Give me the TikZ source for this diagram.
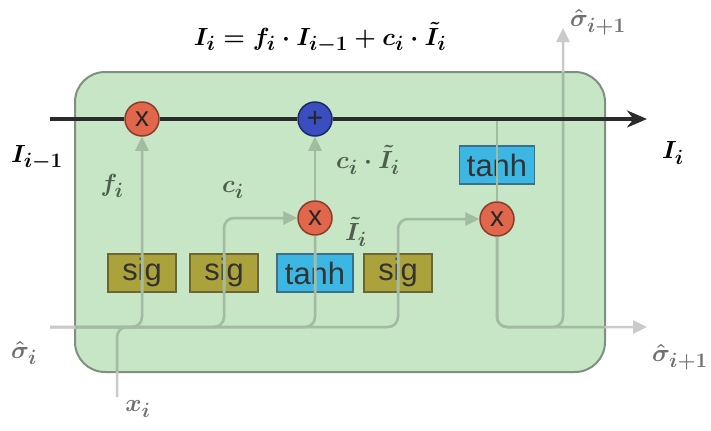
\documentclass[tikz,border=0pt]{standalone}
\usepackage{fontspec}
\setsansfont{Liberation Sans}
\usepackage{tikz}
\usetikzlibrary{arrows.meta}
\definecolor{cell}{HTML}{C6E6C6}
\definecolor{celledge}{HTML}{7F907F}
\definecolor{wirein}{HTML}{A2BCA2}
\definecolor{wireout}{HTML}{CACACA}
\definecolor{sigfill}{HTML}{ABA23C}
\definecolor{sigedge}{HTML}{6B6634}
\definecolor{tanhfill}{HTML}{3CB7E4}
\definecolor{tanhedge}{HTML}{3E6E88}
\definecolor{mulfill}{HTML}{E0674B}
\definecolor{muledge}{HTML}{8A3B2B}
\definecolor{addfill}{HTML}{3A4EC0}
\definecolor{addedge}{HTML}{1C2A66}
\definecolor{state}{HTML}{2B2B2B}
\definecolor{lbl}{HTML}{4E5E4E}
\definecolor{outlbl}{HTML}{707070}

% all grey wires of the cell, drawn in the colour #1
\newcommand\cellwires[1]{%
\draw[wirearrow,draw=#1] (hin) -| (fx.south);
\draw[wirearrow,draw=#1] (hin) -| (sigc.center) |- (mx.west);
\draw[wireline,draw=#1] (hin) -| (mx.south);
\draw[wirearrow,draw=#1] (hin) -| (sigo.center) |- (rx.west);
\draw[wireline,draw=#1] (xin) |- (fx.south |- hin);
\draw[wirearrow,draw=#1] (mx) -- (ax);
\draw[wireline,draw=#1] (rx |- ax) -- (rx);
\draw[wirearrow,draw=#1] (rx) |- (hout);
\draw[wirearrow,draw=#1] (rx) |- (hup |- hout) -- (hup);
}

\begin{document}
\begin{tikzpicture}[x=1bp,y=-1bp,>=Stealth,
  every node/.style={font=\fontsize{30}{34}\selectfont},
  gate/.style={draw,line width=1.5bp,minimum height=38bp,inner sep=0pt,text=black!80,font=\sffamily\fontsize{31}{34}\selectfont},
  siggate/.style={gate,draw=sigedge,fill=sigfill,minimum width=68bp},
  tanhgate/.style={gate,draw=tanhedge,fill=tanhfill,minimum width=76bp},
  op/.style={circle,draw,line width=1.5bp,minimum size=34bp,inner sep=0pt,text=black!85,font=\sffamily\fontsize{28}{30}\selectfont},
  mulop/.style={op,draw=muledge,fill=mulfill},
  addop/.style={op,draw=addedge,fill=addfill},
  wireline/.style={line width=2.5bp,rounded corners=10bp},
  wirearrow/.style={wireline,-{Triangle[length=14bp,width=13bp]}},
  stateline/.style={draw=state,line width=4bp},
  mathlbl/.style={font=\fontsize{30}{34}\selectfont\boldmath}]
\useasboundingbox (0,0) rectangle (711,430);

% cell
\draw[fill=cell,draw=celledge,line width=2bp,rounded corners=30bp] (75,72) rectangle (605,372);

% gates
\node[siggate] (sigf) at (142,273) {sig};
\node[siggate] (sigc) at (224,273) {sig};
\node[tanhgate] (tanhc) at (315,273) {tanh};
\node[siggate] (sigo) at (398,273) {sig};
\node[tanhgate,minimum width=75bp] (tanho) at (497,165) {tanh};

% pointwise operations
\node[mulop] (fx) at (142,119) {x};
\node[addop] (ax) at (315,119) {+};
\node[mulop] (mx) at (315,218) {x};
\node[mulop] (rx) at (497,219) {x};

% free ends
\coordinate (cin) at (50,119);
\coordinate (cout) at (647,119);
\coordinate (hin) at (50,327);
\coordinate (xin) at (117,397);
\coordinate (hout) at (647,327);
\coordinate (hup) at (563,28);

% wires
\cellwires{wireout}
\begin{scope}
\clip[rounded corners=30bp] (75,72) rectangle (605,372);
\cellwires{wirein}
\end{scope}

% cell state
\draw[stateline] (cin) -- (fx);
\draw[stateline] (fx) -- (ax);
\draw[stateline,-{Stealth[length=20bp,width=17bp]}] (ax) -- (cout);

% labels
\node[mathlbl] (eq) at (320,38) {$I_i = f_i\cdot I_{i-1} + c_i\cdot \tilde{I}_i$};
\node[mathlbl] (cprev) at (37,158) {$I_{i-1}$};
\node[mathlbl] (cnext) at (673,153) {$I_i$};
\node[mathlbl,text=lbl] (flbl) at (112,186) {$f_i$};
\node[mathlbl,text=lbl] (clbl) at (233,190) {$c_i$};
\node[mathlbl,text=lbl] (cilbl) at (368,160) {$c_i\cdot \tilde{I}_i$};
\node[mathlbl,text=lbl] (ilbl) at (356,232) {$\tilde{I}_i$};
\node[mathlbl,text=outlbl] (hprev) at (24,353) {$\hat{\sigma}_i$};
\node[mathlbl,text=outlbl] (hnext) at (680,357) {$\hat{\sigma}_{i+1}$};
\node[mathlbl,text=outlbl] (hnextup) at (598,22) {$\hat{\sigma}_{i+1}$};
\node[mathlbl,text=outlbl] (xlbl) at (138,409) {$x_i$};
\end{tikzpicture}
\end{document}
